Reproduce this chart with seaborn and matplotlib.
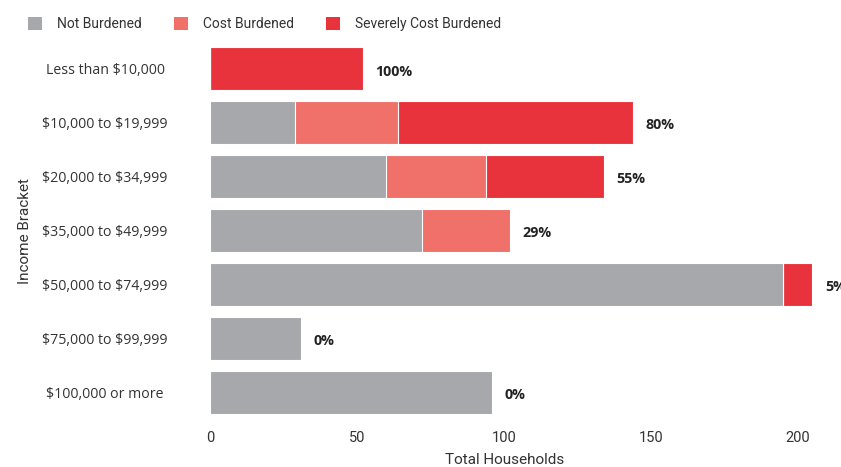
import numpy as np
import pandas as pd
import matplotlib
matplotlib.use("Agg")
import matplotlib.pyplot as plt
import seaborn as sns
from matplotlib.patches import Patch

categories = ["Less than \\$10,000", "\\$10,000 to \\$19,999", "\\$20,000 to \\$34,999",
              "\\$35,000 to \\$49,999", "\\$50,000 to \\$74,999", "\\$75,000 to \\$99,999",
              "\\$100,000 or more"]
not_burdened = [0, 29, 60, 72, 195, 31, 96]
cost_burdened = [0, 35, 34, 30, 0, 0, 0]
severely_burdened = [52, 80, 40, 0, 10, 0, 0]
pct_labels = ["100%", "80%", "55%", "29%", "5%", "0%", "0%"]
x_ticks = [0, 50, 100, 150, 200]
series_names = ["Not Burdened", "Cost Burdened", "Severely Cost Burdened"]
colors = ["#a7a8ac", "#f0706a", "#e8333c"]

sns.set_style("white")
plt.rcParams["font.family"] = ["Roboto", "DejaVu Sans"]

df = pd.DataFrame({"cat": categories,
                   "nb": not_burdened,
                   "cb": cost_burdened,
                   "sb": severely_burdened})
df["c1"] = df["nb"]
df["c2"] = df["nb"] + df["cb"]
df["c3"] = df["c2"] + df["sb"]

fig = plt.figure(figsize=(8.41, 4.67), dpi=100)
ax = fig.add_axes([210 / 841, 1 - 419 / 467, (833 - 210) / 841, (419 - 42) / 467])

for col, c in zip(["c3", "c2", "c1"], [colors[2], colors[1], colors[0]]):
    sns.barplot(data=df, x=col, y="cat", orient="h", color=c, ax=ax,
                width=0.8, edgecolor="white", linewidth=0.8, saturation=1)

for i, (tot, lab) in enumerate(zip(df["c3"], pct_labels)):
    ax.annotate(lab, (tot, i + 0.05), xytext=(9, 0), textcoords="offset points",
                va="center", ha="left", fontsize=10.3, fontweight="bold",
                family=["Open Sans", "DejaVu Sans"], color="#222222",
                annotation_clip=False)

ax.set_xlim(0, 212)
ax.set_ylim(6.5, -0.5)
ax.set_xticks(x_ticks)
ax.set_xticklabels([str(t) for t in x_ticks], fontsize=10.5, color="#333333")
ax.tick_params(axis="x", length=0, pad=9)
ax.tick_params(axis="y", length=0, pad=105 * 0.72)
for t in ax.get_yticklabels():
    t.set_ha("center")
    t.set_fontfamily(["Open Sans", "DejaVu Sans"])
    t.set_fontsize(10.2)
    t.set_color("#333333")
for s in ax.spines.values():
    s.set_visible(False)

ax.set_xlabel("Total Households", fontsize=11, color="#333333")
ax.xaxis.set_label_coords((505 - 210) / (833 - 210), -0.09)
ax.set_ylabel("Income Bracket", fontsize=11, color="#333333")
ax.yaxis.set_label_coords(-(210 - 32) / (833 - 210), 0.5)

handles = [Patch(facecolor=c, edgecolor="none") for c in colors]
fig.legend(handles, series_names, loc="upper left", bbox_to_anchor=(0.017, 0.993),
           ncol=3, frameon=False, fontsize=10, handlelength=1.0, handleheight=1.0,
           handletextpad=1.1, columnspacing=2.3, labelcolor="#333333",
           borderaxespad=0.6)

fig.savefig("out.png", dpi=100)
